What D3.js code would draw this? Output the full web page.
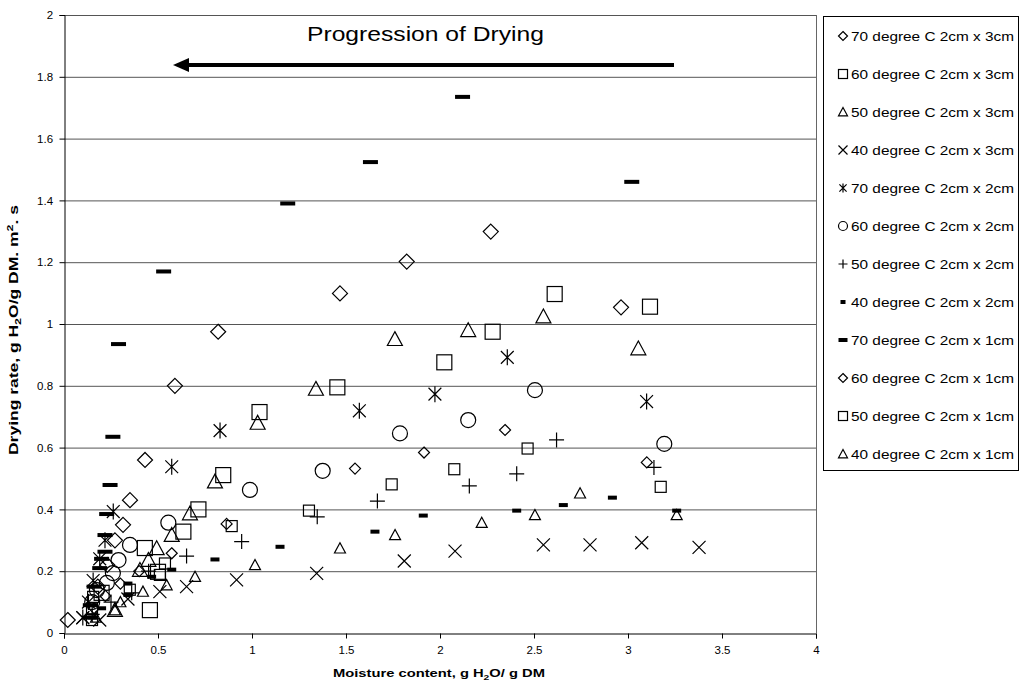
<!DOCTYPE html>
<html><head><meta charset="utf-8">
<script src="https://cdn.jsdelivr.net/npm/d3@7"></script>
<style>body{margin:0;background:#fff}text{font-family:"Liberation Sans",Arial,sans-serif}</style>
</head><body><svg id="c" width="1021" height="685"></svg>
<script>
const xTicks=[0,0.5,1,1.5,2,2.5,3,3.5,4];
const yTicks=[0,0.2,0.4,0.6,0.8,1,1.2,1.4,1.6,1.8,2];
const yTickLabels=["0","0.2","0.4","0.6","0.8","1","1.2","1.4","1.6","1.8","2"];

const s70x3=[[3.10,0.552],[2.346,0.657],[1.915,0.584],[1.548,0.532],[0.865,0.353],[0.573,0.258],[0.40,0.20],[0.30,0.16],[0.22,0.12],[0.16,0.08]];
const s60x3=[[3.174,0.473],[2.466,0.597],[2.076,0.53],[1.743,0.481],[1.303,0.396],[0.892,0.346],[0.537,0.225],[0.51,0.188],[0.35,0.14],[0.155,0.117],[0.149,0.08],[0.149,0.042]];
const s50x3=[[3.259,0.382],[2.745,0.452],[2.505,0.382],[2.222,0.357],[1.761,0.317],[1.468,0.274],[1.016,0.22],[0.697,0.182],[0.546,0.155],[0.42,0.134],[0.30,0.10],[0.271,0.074],[0.17,0.05]];
const s40x3=[[3.378,0.277],[3.073,0.292],[2.798,0.285],[2.55,0.285],[2.08,0.265],[1.81,0.233],[1.344,0.193],[0.918,0.172],[0.652,0.15],[0.51,0.134],[0.34,0.11],[0.19,0.042],[0.10,0.049]];
const s70x2=[[3.099,0.749],[2.358,0.892],[1.973,0.773],[1.571,0.719],[0.83,0.655],[0.573,0.538],[0.262,0.393],[0.218,0.30],[0.19,0.24],[0.155,0.17],[0.13,0.10],[0.10,0.05]];
const s60x2=[[3.193,0.612],[2.505,0.786],[2.15,0.689],[1.787,0.646],[1.376,0.525],[0.989,0.463],[0.555,0.357],[0.351,0.285],[0.29,0.236],[0.26,0.194],[0.228,0.162],[0.175,0.139],[0.15,0.10]];
const s50x2=[[3.138,0.536],[2.62,0.625],[2.408,0.515],[2.156,0.476],[1.667,0.427],[1.347,0.376],[0.945,0.296],[0.652,0.249],[0.45,0.20],[0.36,0.13],[0.25,0.10],[0.15,0.06]];
const s40x2=[[3.259,0.396],[2.917,0.438],[2.656,0.414],[2.408,0.396],[1.911,0.38],[1.654,0.328],[1.149,0.279],[0.803,0.238],[0.573,0.205],[0.466,0.182],[0.34,0.16],[0.34,0.123],[0.2,0.08],[0.15,0.05]];
const s70x1=[[3.02,1.46],[2.12,1.735],[1.63,1.524],[1.19,1.39],[0.53,1.17],[0.29,0.935],[0.26,0.635],[0.245,0.479],[0.227,0.385],[0.218,0.317],[0.218,0.263],[0.2,0.24],[0.19,0.21],[0.16,0.15],[0.14,0.09],[0.14,0.05]];
const s60x1=[[2.963,1.054],[2.27,1.299],[1.823,1.202],[1.468,1.099],[0.82,0.975],[0.59,0.80],[0.431,0.56],[0.351,0.43],[0.314,0.35],[0.271,0.30],[0.23,0.22],[0.18,0.15],[0.02,0.042]];
const s50x1=[[3.117,1.056],[2.61,1.097],[2.28,0.975],[2.023,0.876],[1.454,0.795],[1.04,0.715],[0.847,0.511],[0.715,0.40],[0.635,0.328],[0.43,0.275],[0.5,0.198],[0.457,0.074],[0.2,0.13]];
const s40x1=[[3.055,0.921],[2.55,1.024],[2.15,0.98],[1.76,0.951],[1.34,0.79],[1.03,0.68],[0.803,0.49],[0.67,0.387],[0.573,0.317],[0.493,0.274],[0.449,0.236],[0.404,0.204],[0.271,0.074]];

const seriesNames=["70 degree C 2cm x 3cm","60 degree C 2cm x 3cm","50 degree C 2cm x 3cm","40 degree C 2cm x 3cm",
"70 degree C 2cm x 2cm","60 degree C 2cm x 2cm","50 degree C 2cm x 2cm","40 degree C 2cm x 2cm",
"70 degree C 2cm x 1cm","60 degree C 2cm x 1cm","50 degree C 2cm x 1cm","40 degree C 2cm x 1cm"];
const seriesData=[s70x3,s60x3,s50x3,s40x3,s70x2,s60x2,s50x2,s40x2,s70x1,s60x1,s50x1,s40x1];
const seriesShape=["diamond","square","triangle","x","star","circle","plus","dash","bar","diamond","square","triangle"];
const seriesSize=[11,11,11,13,16,15,15,9,15,15,15,15];

const svg=d3.select("#c");
const L=64,R=816,T=15,B=633;
const x=d3.scaleLinear().domain([0,4]).range([L,R]);
const y=d3.scaleLinear().domain([0,2]).range([B,T]);

svg.append("g").selectAll("line").data(yTicks.slice(1)).join("line")
 .attr("x1",L).attr("x2",R).attr("y1",d=>y(d)+0.5).attr("y2",d=>y(d)+0.5)
 .attr("stroke","#555").attr("stroke-width",1);
svg.append("line").attr("x1",R+0.5).attr("x2",R+0.5).attr("y1",T).attr("y2",B).attr("stroke","#666");

const xa=svg.append("g").attr("transform",`translate(0,${B+0.5})`)
 .call(d3.axisBottom(x).tickValues(xTicks).tickFormat(d3.format("")).tickSizeOuter(0).tickSize(5));
const ya=svg.append("g").attr("transform",`translate(${L+0.5},0)`)
 .call(d3.axisLeft(y).tickValues(yTicks).tickFormat((d,i)=>yTickLabels[i]).tickSizeOuter(0).tickSize(5));
[xa,ya].forEach(a=>{a.selectAll("path,line").attr("stroke","#000");a.selectAll("text").attr("font-size",11.5).attr("fill","#000").style("font-family","Liberation Sans, Arial");});
xa.selectAll("text").attr("dy","1.1em");
ya.selectAll("text").attr("dx","-0.3em");

function drawShape(g,shape,s){
  const r=s/2;
  const st={stroke:"#000","stroke-width":1.2,fill:"none"};
  const ap=(el)=>{for(const k in st) el.attr(k,st[k]);return el;};
  if(shape==="diamond") ap(g.append("path").attr("d",`M0,${-r}L${r},0L0,${r}L${-r},0Z`));
  else if(shape==="square") ap(g.append("rect").attr("x",-r).attr("y",-r).attr("width",s).attr("height",s));
  else if(shape==="triangle") ap(g.append("path").attr("d",`M0,${-r}L${r},${r*0.85}L${-r},${r*0.85}Z`));
  else if(shape==="x") ap(g.append("path").attr("d",`M${-r},${-r}L${r},${r}M${-r},${r}L${r},${-r}`));
  else if(shape==="star") ap(g.append("path").attr("d",`M${-r*0.8},${-r*0.8}L${r*0.8},${r*0.8}M${-r*0.8},${r*0.8}L${r*0.8},${-r*0.8}M0,${-r}L0,${r}`));
  else if(shape==="circle") ap(g.append("circle").attr("r",r));
  else if(shape==="plus") ap(g.append("path").attr("d",`M${-r},0L${r},0M0,${-r}L0,${r}`));
  else if(shape==="dash"||shape==="bar") g.append("rect").attr("x",-r).attr("y",-2).attr("width",s).attr("height",4).attr("fill","#000");
}

const plot=svg.append("g");
seriesData.forEach((data,i)=>{
  const gs=plot.append("g").attr("class","series");
  data.forEach(d=>{
    const g=gs.append("g").attr("transform",`translate(${x(d[0])},${y(d[1])})`);
    drawShape(g,seriesShape[i],seriesSize[i]);
  });
});

const xt=svg.append("text").attr("x",333).attr("y",677)
 .attr("font-size",11.5).attr("font-weight","bold").attr("textLength",212).attr("lengthAdjust","spacingAndGlyphs");
xt.append("tspan").text("Moisture content, g H");
xt.append("tspan").attr("font-size",8).attr("dy",3).text("2");
xt.append("tspan").attr("dy",-3).text("O/ g DM");

const yt=svg.append("text").attr("transform",`translate(18,455) rotate(-90)`)
 .attr("font-size",12.5).attr("font-weight","bold").attr("textLength",250).attr("lengthAdjust","spacingAndGlyphs");
yt.append("tspan").text("Drying rate, g H");
yt.append("tspan").attr("font-size",9).attr("dy",3).text("2");
yt.append("tspan").attr("dy",-3).text("O/g DM. m");
yt.append("tspan").attr("font-size",9).attr("dy",-5).text("2");
yt.append("tspan").attr("dy",5).text(". s");

svg.append("text").attr("x",307).attr("y",41).attr("font-size",20).attr("textLength",237).attr("lengthAdjust","spacingAndGlyphs").text("Progression of Drying");
svg.append("line").attr("x1",674).attr("x2",186).attr("y1",65).attr("y2",65).attr("stroke","#000").attr("stroke-width",4);
svg.append("path").attr("d","M173,65L189,58L189,72Z").attr("fill","#000");

const LX=823,LY=16,rowH=38;
svg.append("rect").attr("x",LX+0.5).attr("y",LY+0.5).attr("width",195).attr("height",rowH*12-2).attr("fill","#fff").attr("stroke","#000");
seriesNames.forEach((n,i)=>{
  const cy=LY+20+i*rowH;
  const g=svg.append("g").attr("transform",`translate(${843},${cy})`);
  const sh=seriesShape[i];
  drawShape(g,sh,sh==="dash"?5:9);
  svg.append("text").attr("x",851).attr("y",cy+4.5).attr("font-size",12).attr("textLength",163).attr("lengthAdjust","spacingAndGlyphs").text(n);
});
</script></body></html>
